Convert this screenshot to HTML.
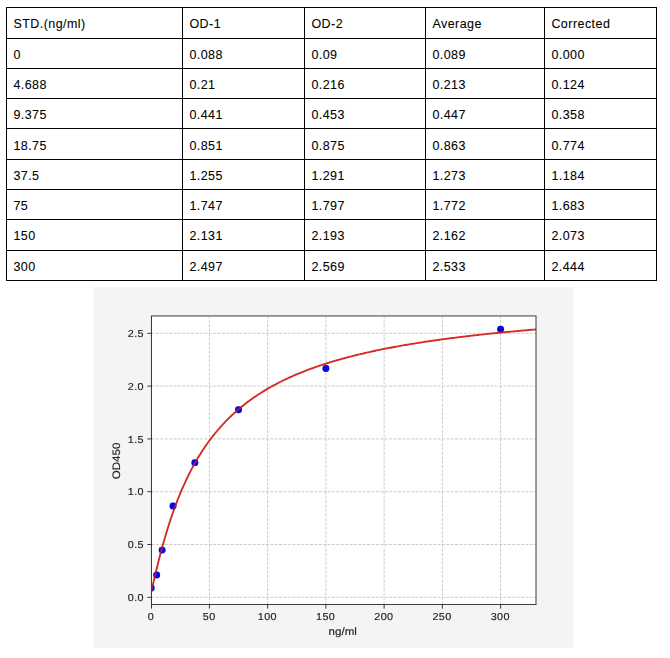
<!DOCTYPE html>
<html><head><meta charset="utf-8"><title>Standard curve</title>
<style>
html,body{margin:0;padding:0;background:#fff;}
body{width:670px;height:658px;position:relative;overflow:hidden;font-family:"Liberation Sans",sans-serif;}
.l{position:absolute;background:#000;}
.t{position:absolute;font-size:12.5px;line-height:14px;color:#000;-webkit-text-stroke:0.08px #000;white-space:nowrap;letter-spacing:0.45px;}
svg{position:absolute;left:0;top:0;will-change:transform;}
svg text{font-family:"Liberation Sans",sans-serif;}
.g{stroke:#bcbcbc;stroke-width:0.75;stroke-dasharray:3.05 1.35;}
.k{stroke:#2e2e2e;stroke-width:0.95;}
svg text{fill:#222;stroke:#222;stroke-width:0.15px;text-rendering:geometricPrecision;}
</style></head><body>
<div class="l" style="left:6px;top:7px;width:1px;height:274px"></div>
<div class="l" style="left:182px;top:7px;width:1px;height:274px"></div>
<div class="l" style="left:304px;top:7px;width:1px;height:274px"></div>
<div class="l" style="left:425px;top:7px;width:1px;height:274px"></div>
<div class="l" style="left:544px;top:7px;width:1px;height:274px"></div>
<div class="l" style="left:656px;top:7px;width:1px;height:274px"></div>
<div class="l" style="left:6px;top:7px;width:651px;height:1px"></div>
<div class="l" style="left:6px;top:38px;width:651px;height:1px"></div>
<div class="l" style="left:6px;top:68px;width:651px;height:1px"></div>
<div class="l" style="left:6px;top:98px;width:651px;height:1px"></div>
<div class="l" style="left:6px;top:128px;width:651px;height:1px"></div>
<div class="l" style="left:6px;top:159px;width:651px;height:1px"></div>
<div class="l" style="left:6px;top:189px;width:651px;height:1px"></div>
<div class="l" style="left:6px;top:219px;width:651px;height:1px"></div>
<div class="l" style="left:6px;top:250px;width:651px;height:1px"></div>
<div class="l" style="left:6px;top:280px;width:651px;height:1px"></div>
<div class="t" style="left:13.4px;top:16.67px">STD.(ng/ml)</div>
<div class="t" style="left:189.4px;top:16.67px">OD-1</div>
<div class="t" style="left:311.4px;top:16.67px">OD-2</div>
<div class="t" style="left:432.4px;top:16.67px">Average</div>
<div class="t" style="left:551.4px;top:16.67px">Corrected</div>
<div class="t" style="left:13.4px;top:47.67px">0</div>
<div class="t" style="left:189.4px;top:47.67px">0.088</div>
<div class="t" style="left:311.4px;top:47.67px">0.09</div>
<div class="t" style="left:432.4px;top:47.67px">0.089</div>
<div class="t" style="left:551.4px;top:47.67px">0.000</div>
<div class="t" style="left:13.4px;top:77.67px">4.688</div>
<div class="t" style="left:189.4px;top:77.67px">0.21</div>
<div class="t" style="left:311.4px;top:77.67px">0.216</div>
<div class="t" style="left:432.4px;top:77.67px">0.213</div>
<div class="t" style="left:551.4px;top:77.67px">0.124</div>
<div class="t" style="left:13.4px;top:107.67px">9.375</div>
<div class="t" style="left:189.4px;top:107.67px">0.441</div>
<div class="t" style="left:311.4px;top:107.67px">0.453</div>
<div class="t" style="left:432.4px;top:107.67px">0.447</div>
<div class="t" style="left:551.4px;top:107.67px">0.358</div>
<div class="t" style="left:13.4px;top:138.67px">18.75</div>
<div class="t" style="left:189.4px;top:138.67px">0.851</div>
<div class="t" style="left:311.4px;top:138.67px">0.875</div>
<div class="t" style="left:432.4px;top:138.67px">0.863</div>
<div class="t" style="left:551.4px;top:138.67px">0.774</div>
<div class="t" style="left:13.4px;top:168.67px">37.5</div>
<div class="t" style="left:189.4px;top:168.67px">1.255</div>
<div class="t" style="left:311.4px;top:168.67px">1.291</div>
<div class="t" style="left:432.4px;top:168.67px">1.273</div>
<div class="t" style="left:551.4px;top:168.67px">1.184</div>
<div class="t" style="left:13.4px;top:198.67px">75</div>
<div class="t" style="left:189.4px;top:198.67px">1.747</div>
<div class="t" style="left:311.4px;top:198.67px">1.797</div>
<div class="t" style="left:432.4px;top:198.67px">1.772</div>
<div class="t" style="left:551.4px;top:198.67px">1.683</div>
<div class="t" style="left:13.4px;top:228.67px">150</div>
<div class="t" style="left:189.4px;top:228.67px">2.131</div>
<div class="t" style="left:311.4px;top:228.67px">2.193</div>
<div class="t" style="left:432.4px;top:228.67px">2.162</div>
<div class="t" style="left:551.4px;top:228.67px">2.073</div>
<div class="t" style="left:13.4px;top:259.67px">300</div>
<div class="t" style="left:189.4px;top:259.67px">2.497</div>
<div class="t" style="left:311.4px;top:259.67px">2.569</div>
<div class="t" style="left:432.4px;top:259.67px">2.533</div>
<div class="t" style="left:551.4px;top:259.67px">2.444</div>
<svg width="670" height="658" viewBox="0 0 670 658">
<defs><clipPath id="cp"><rect x="151.5" y="315.95" width="384.5" height="288.55"/></clipPath></defs>
<rect x="93.3" y="287.3" width="480.4" height="360.4" fill="#f4f4f4"/>
<rect x="151.5" y="315.95" width="384.5" height="288.55" fill="#fff"/>
<line class="g" x1="151.20" y1="604.5" x2="151.20" y2="315.95"/>
<line class="g" x1="209.43" y1="604.5" x2="209.43" y2="315.95"/>
<line class="g" x1="267.66" y1="604.5" x2="267.66" y2="315.95"/>
<line class="g" x1="325.89" y1="604.5" x2="325.89" y2="315.95"/>
<line class="g" x1="384.12" y1="604.5" x2="384.12" y2="315.95"/>
<line class="g" x1="442.35" y1="604.5" x2="442.35" y2="315.95"/>
<line class="g" x1="500.58" y1="604.5" x2="500.58" y2="315.95"/>
<line class="g" x1="151.5" y1="597.30" x2="536.0" y2="597.30"/>
<line class="g" x1="151.5" y1="544.50" x2="536.0" y2="544.50"/>
<line class="g" x1="151.5" y1="491.70" x2="536.0" y2="491.70"/>
<line class="g" x1="151.5" y1="438.90" x2="536.0" y2="438.90"/>
<line class="g" x1="151.5" y1="386.10" x2="536.0" y2="386.10"/>
<line class="g" x1="151.5" y1="333.30" x2="536.0" y2="333.30"/>
<g clip-path="url(#cp)">
<circle cx="151.20" cy="588.02" r="3.45" fill="#0b08dc"/>
<circle cx="156.66" cy="574.89" r="3.45" fill="#0b08dc"/>
<circle cx="162.12" cy="550.11" r="3.45" fill="#0b08dc"/>
<circle cx="173.04" cy="506.06" r="3.45" fill="#0b08dc"/>
<circle cx="194.87" cy="462.64" r="3.45" fill="#0b08dc"/>
<circle cx="238.54" cy="409.80" r="3.45" fill="#0b08dc"/>
<circle cx="325.89" cy="368.49" r="3.45" fill="#0b08dc"/>
<circle cx="500.58" cy="329.21" r="3.45" fill="#0b08dc"/>
<path d="M151.20,591.77 L151.40,591.05 L151.59,590.27 L151.79,589.46 L151.99,588.64 L152.19,587.81 L152.38,586.97 L152.58,586.13 L152.78,585.29 L152.98,584.44 L153.17,583.60 L153.37,582.75 L153.57,581.90 L153.77,581.06 L153.96,580.21 L154.16,579.37 L154.36,578.53 L154.56,577.68 L154.75,576.84 L154.95,576.01 L155.15,575.17 L155.35,574.34 L155.54,573.51 L155.74,572.68 L155.94,571.85 L156.13,571.03 L156.33,570.21 L156.53,569.39 L156.73,568.58 L156.92,567.77 L157.12,566.96 L157.32,566.15 L157.52,565.35 L157.71,564.55 L157.91,563.76 L158.11,562.96 L158.31,562.17 L158.50,561.39 L158.70,560.60 L158.90,559.82 L159.10,559.05 L159.29,558.28 L159.49,557.51 L159.69,556.74 L159.89,555.98 L160.08,555.22 L160.28,554.46 L160.48,553.71 L160.67,552.96 L160.87,552.21 L161.07,551.47 L161.27,550.73 L161.46,549.99 L161.66,549.26 L161.86,548.53 L162.06,547.80 L162.25,547.08 L162.45,546.36 L162.65,545.64 L162.85,544.93 L164.10,540.49 L165.35,536.17 L166.60,531.99 L167.85,527.92 L169.10,523.97 L170.35,520.14 L171.60,516.42 L172.85,512.81 L174.10,509.30 L175.35,505.89 L176.60,502.58 L177.85,499.36 L179.10,496.23 L180.35,493.18 L181.60,490.22 L182.85,487.34 L184.10,484.53 L185.35,481.80 L186.60,479.14 L187.85,476.55 L189.10,474.03 L190.35,471.57 L191.60,469.17 L192.85,466.84 L194.10,464.56 L195.35,462.33 L196.60,460.16 L197.85,458.05 L199.10,455.98 L200.35,453.96 L201.60,451.99 L202.86,450.06 L204.11,448.18 L205.36,446.34 L206.61,444.54 L207.86,442.78 L209.11,441.06 L210.36,439.38 L211.61,437.74 L212.86,436.12 L214.11,434.55 L215.36,433.00 L216.61,431.49 L217.86,430.01 L219.11,428.56 L220.36,427.14 L221.61,425.75 L222.86,424.38 L224.11,423.05 L225.36,421.73 L226.61,420.45 L227.86,419.18 L229.11,417.95 L230.36,416.73 L231.61,415.54 L232.86,414.37 L234.11,413.22 L235.36,412.10 L236.61,410.99 L237.86,409.90 L239.11,408.83 L240.36,407.78 L241.61,406.75 L242.86,405.74 L244.11,404.75 L245.37,403.77 L246.62,402.81 L247.87,401.86 L249.12,400.93 L250.37,400.02 L251.62,399.12 L252.87,398.23 L254.12,397.36 L255.37,396.51 L256.62,395.66 L257.87,394.83 L259.12,394.02 L260.37,393.21 L261.62,392.42 L262.87,391.64 L264.12,390.88 L265.37,390.12 L266.62,389.38 L267.87,388.65 L269.12,387.92 L270.37,387.21 L271.62,386.51 L272.87,385.82 L274.12,385.14 L275.37,384.47 L276.62,383.81 L277.87,383.16 L279.12,382.51 L280.37,381.88 L281.62,381.25 L282.87,380.64 L284.12,380.03 L285.37,379.43 L286.62,378.84 L287.87,378.25 L289.13,377.68 L290.38,377.11 L291.63,376.55 L292.88,376.00 L294.13,375.45 L295.38,374.91 L296.63,374.38 L297.88,373.85 L299.13,373.34 L300.38,372.82 L301.63,372.32 L302.88,371.82 L304.13,371.33 L305.38,370.84 L306.63,370.36 L307.88,369.88 L309.13,369.41 L310.38,368.95 L311.63,368.49 L312.88,368.04 L314.13,367.59 L315.38,367.15 L316.63,366.71 L317.88,366.28 L319.13,365.86 L320.38,365.43 L321.63,365.02 L322.88,364.60 L324.13,364.20 L325.38,363.79 L326.63,363.40 L327.88,363.00 L329.13,362.61 L330.38,362.23 L331.64,361.85 L332.89,361.47 L334.14,361.10 L335.39,360.73 L336.64,360.36 L337.89,360.00 L339.14,359.65 L340.39,359.29 L341.64,358.94 L342.89,358.60 L344.14,358.26 L345.39,357.92 L346.64,357.58 L347.89,357.25 L349.14,356.92 L350.39,356.60 L351.64,356.28 L352.89,355.96 L354.14,355.64 L355.39,355.33 L356.64,355.02 L357.89,354.72 L359.14,354.42 L360.39,354.12 L361.64,353.82 L362.89,353.53 L364.14,353.23 L365.39,352.95 L366.64,352.66 L367.89,352.38 L369.14,352.10 L370.39,351.82 L371.64,351.55 L372.89,351.27 L374.14,351.00 L375.40,350.74 L376.65,350.47 L377.90,350.21 L379.15,349.95 L380.40,349.69 L381.65,349.44 L382.90,349.18 L384.15,348.93 L385.40,348.69 L386.65,348.44 L387.90,348.20 L389.15,347.95 L390.40,347.72 L391.65,347.48 L392.90,347.24 L394.15,347.01 L395.40,346.78 L396.65,346.55 L397.90,346.32 L399.15,346.10 L400.40,345.87 L401.65,345.65 L402.90,345.43 L404.15,345.21 L405.40,345.00 L406.65,344.78 L407.90,344.57 L409.15,344.36 L410.40,344.15 L411.65,343.94 L412.90,343.74 L414.15,343.54 L415.40,343.33 L416.65,343.13 L417.91,342.93 L419.16,342.74 L420.41,342.54 L421.66,342.35 L422.91,342.16 L424.16,341.96 L425.41,341.77 L426.66,341.59 L427.91,341.40 L429.16,341.22 L430.41,341.03 L431.66,340.85 L432.91,340.67 L434.16,340.49 L435.41,340.31 L436.66,340.13 L437.91,339.96 L439.16,339.79 L440.41,339.61 L441.66,339.44 L442.91,339.27 L444.16,339.10 L445.41,338.94 L446.66,338.77 L447.91,338.60 L449.16,338.44 L450.41,338.28 L451.66,338.12 L452.91,337.96 L454.16,337.80 L455.41,337.64 L456.66,337.48 L457.91,337.33 L459.16,337.17 L460.41,337.02 L461.67,336.87 L462.92,336.71 L464.17,336.56 L465.42,336.41 L466.67,336.27 L467.92,336.12 L469.17,335.97 L470.42,335.83 L471.67,335.68 L472.92,335.54 L474.17,335.40 L475.42,335.26 L476.67,335.12 L477.92,334.98 L479.17,334.84 L480.42,334.70 L481.67,334.57 L482.92,334.43 L484.17,334.30 L485.42,334.16 L486.67,334.03 L487.92,333.90 L489.17,333.77 L490.42,333.64 L491.67,333.51 L492.92,333.38 L494.17,333.25 L495.42,333.13 L496.67,333.00 L497.92,332.88 L499.17,332.75 L500.42,332.63 L501.67,332.50 L502.92,332.38 L504.18,332.26 L505.43,332.14 L506.68,332.02 L507.93,331.90 L509.18,331.79 L510.43,331.67 L511.68,331.55 L512.93,331.44 L514.18,331.32 L515.43,331.21 L516.68,331.09 L517.93,330.98 L519.18,330.87 L520.43,330.75 L521.68,330.64 L522.93,330.53 L524.18,330.42 L525.43,330.32 L526.68,330.21 L527.93,330.10 L529.18,329.99 L530.43,329.89 L531.68,329.78 L532.93,329.68 L534.18,329.57 L535.43,329.47 L536.68,329.36" fill="none" stroke="#d22a26" stroke-width="1.85" stroke-linejoin="round"/>
<circle cx="151.20" cy="588.02" r="3.45" fill="#0b08dc" opacity="0.35"/>
<circle cx="156.66" cy="574.89" r="3.45" fill="#0b08dc" opacity="0.35"/>
<circle cx="162.12" cy="550.11" r="3.45" fill="#0b08dc" opacity="0.35"/>
<circle cx="173.04" cy="506.06" r="3.45" fill="#0b08dc" opacity="0.35"/>
<circle cx="194.87" cy="462.64" r="3.45" fill="#0b08dc" opacity="0.35"/>
<circle cx="238.54" cy="409.80" r="3.45" fill="#0b08dc" opacity="0.35"/>
<circle cx="325.89" cy="368.49" r="3.45" fill="#0b08dc" opacity="0.35"/>
<circle cx="500.58" cy="329.21" r="3.45" fill="#0b08dc" opacity="0.35"/>
</g>
<rect x="151.5" y="315.95" width="384.5" height="288.55" fill="none" stroke="#3c3c3c" stroke-width="1"/>
<line class="k" x1="151.50" y1="604.5" x2="151.50" y2="608.6"/>
<text transform="translate(150.70 620.10) scale(1.07 1)" x="0.2" text-anchor="middle" style="font-size:10.1px;letter-spacing:0.4px">0</text>
<line class="k" x1="209.43" y1="604.5" x2="209.43" y2="608.6"/>
<text transform="translate(208.93 620.10) scale(1.07 1)" x="0.2" text-anchor="middle" style="font-size:10.1px;letter-spacing:0.4px">50</text>
<line class="k" x1="267.66" y1="604.5" x2="267.66" y2="608.6"/>
<text transform="translate(267.16 620.10) scale(1.07 1)" x="0.2" text-anchor="middle" style="font-size:10.1px;letter-spacing:0.4px">100</text>
<line class="k" x1="325.89" y1="604.5" x2="325.89" y2="608.6"/>
<text transform="translate(325.39 620.10) scale(1.07 1)" x="0.2" text-anchor="middle" style="font-size:10.1px;letter-spacing:0.4px">150</text>
<line class="k" x1="384.12" y1="604.5" x2="384.12" y2="608.6"/>
<text transform="translate(383.62 620.10) scale(1.07 1)" x="0.2" text-anchor="middle" style="font-size:10.1px;letter-spacing:0.4px">200</text>
<line class="k" x1="442.35" y1="604.5" x2="442.35" y2="608.6"/>
<text transform="translate(441.85 620.10) scale(1.07 1)" x="0.2" text-anchor="middle" style="font-size:10.1px;letter-spacing:0.4px">250</text>
<line class="k" x1="500.58" y1="604.5" x2="500.58" y2="608.6"/>
<text transform="translate(500.08 620.10) scale(1.07 1)" x="0.2" text-anchor="middle" style="font-size:10.1px;letter-spacing:0.4px">300</text>
<line class="k" x1="147.35" y1="597.30" x2="151.5" y2="597.30"/>
<text transform="translate(143.60 601.05) scale(1.07 1)" x="0.4" text-anchor="end" style="font-size:10.1px;letter-spacing:0.4px">0.0</text>
<line class="k" x1="147.35" y1="544.50" x2="151.5" y2="544.50"/>
<text transform="translate(143.60 548.25) scale(1.07 1)" x="0.4" text-anchor="end" style="font-size:10.1px;letter-spacing:0.4px">0.5</text>
<line class="k" x1="147.35" y1="491.70" x2="151.5" y2="491.70"/>
<text transform="translate(143.60 495.45) scale(1.07 1)" x="0.4" text-anchor="end" style="font-size:10.1px;letter-spacing:0.4px">1.0</text>
<line class="k" x1="147.35" y1="438.90" x2="151.5" y2="438.90"/>
<text transform="translate(143.60 442.65) scale(1.07 1)" x="0.4" text-anchor="end" style="font-size:10.1px;letter-spacing:0.4px">1.5</text>
<line class="k" x1="147.35" y1="386.10" x2="151.5" y2="386.10"/>
<text transform="translate(143.60 389.85) scale(1.07 1)" x="0.4" text-anchor="end" style="font-size:10.1px;letter-spacing:0.4px">2.0</text>
<line class="k" x1="147.35" y1="333.30" x2="151.5" y2="333.30"/>
<text transform="translate(143.60 337.05) scale(1.07 1)" x="0.4" text-anchor="end" style="font-size:10.1px;letter-spacing:0.4px">2.5</text>
<text transform="translate(342.70 635.10) scale(1.07 1)" x="0.0" text-anchor="middle" style="font-size:10.8px;letter-spacing:0.0px">ng/ml</text>
<text transform="translate(120.20 460.90) rotate(-90) scale(1.07 1)" x="0.0" text-anchor="middle" style="font-size:10.8px;letter-spacing:0.0px">OD450</text>
</svg>
</body></html>
